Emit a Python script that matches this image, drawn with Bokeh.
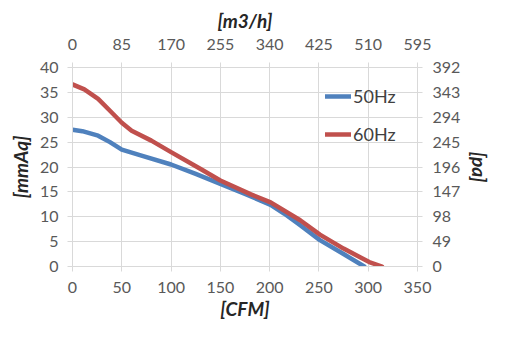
from bokeh.plotting import figure
from bokeh.models import Range1d, LinearAxis, FixedTicker, Legend, LegendItem
from bokeh.embed import file_html
from bokeh.resources import INLINE

# CFM airflow vs static pressure (mmAq)
cfm_50 = [0, 10, 26, 38, 50, 70, 100, 125, 150, 175, 201, 215, 231, 251, 275, 296]
mmaq_50 = [27.5, 27.2, 26.3, 25.0, 23.5, 22.3, 20.5, 18.6, 16.6, 14.6, 12.4, 10.6, 8.3, 5.3, 2.5, 0.0]
cfm_60 = [0, 12, 26, 38, 50, 60, 80, 100, 130, 150, 181, 201, 231, 251, 275, 301, 314]
mmaq_60 = [36.6, 35.6, 33.7, 31.3, 28.9, 27.3, 25.3, 23.0, 19.6, 17.3, 14.5, 12.9, 9.3, 6.4, 3.6, 0.9, 0.0]

cfm_ticks = [0, 50, 100, 150, 200, 250, 300, 350]
m3h_ticks = [0, 85, 170, 255, 340, 425, 510, 595]
mmaq_ticks = [0, 5, 10, 15, 20, 25, 30, 35, 40]
pa_ticks = [0, 49, 98, 147, 196, 245, 294, 343, 392]

FONT = "Lato"
TICK_COLOR = "#595959"
LABEL_COLOR = "#262626"
GRID = "#d9d9d9"

p = figure(width=516, height=342, output_backend="svg", toolbar_location=None,
           x_range=Range1d(0, 350), y_range=Range1d(0, 40),
           min_border_left=72, min_border_right=99, min_border_top=67, min_border_bottom=76,
           x_axis_location=None, y_axis_location=None)
p.outline_line_color = None
p.extra_x_ranges = {"m3h": Range1d(0, 595)}
p.extra_y_ranges = {"pa": Range1d(0, 392)}

def style(ax, ticks, label):
    ax.ticker = FixedTicker(ticks=ticks)
    ax.axis_label = label
    ax.axis_label_text_font = FONT
    ax.axis_label_text_font_style = "bold italic"
    ax.axis_label_text_font_size = "19px"
    ax.axis_label_text_color = LABEL_COLOR
    ax.major_label_text_font = FONT
    ax.major_label_text_font_size = "16px"
    ax.major_label_text_color = TICK_COLOR
    ax.axis_line_color = GRID
    ax.major_tick_line_color = GRID
    ax.major_tick_in = 0
    ax.major_tick_out = 5
    ax.minor_tick_line_color = None

bottom = LinearAxis()
style(bottom, cfm_ticks, "[CFM]")
bottom.major_label_standoff = 10
bottom.axis_label_standoff = 1
p.add_layout(bottom, "below")

top = LinearAxis(x_range_name="m3h")
style(top, m3h_ticks, "[m3/h]")
top.major_label_standoff = 13
top.axis_label_standoff = 4
p.add_layout(top, "above")

left = LinearAxis()
style(left, mmaq_ticks, "[mmAq]")
left.major_label_standoff = 9
left.axis_label_standoff = 5
p.add_layout(left, "left")

right = LinearAxis(y_range_name="pa")
style(right, pa_ticks, "[pa]")
right.major_label_standoff = 10
right.axis_label_standoff = 5
p.add_layout(right, "right")

p.xgrid.ticker = FixedTicker(ticks=cfm_ticks)
p.ygrid.ticker = FixedTicker(ticks=mmaq_ticks)
p.xgrid.grid_line_color = GRID
p.ygrid.grid_line_color = GRID

r50 = p.line(cfm_50, mmaq_50, line_color="#4f81bd", line_width=4.5, line_join="round", line_cap="round")
r60 = p.line(cfm_60, mmaq_60, line_color="#c0504d", line_width=4.5, line_join="round", line_cap="round")

legend = Legend(items=[LegendItem(label="50Hz", renderers=[r50]),
                       LegendItem(label="60Hz", renderers=[r60])],
                location=(253, 121), orientation="vertical")
legend.background_fill_alpha = 0
legend.border_line_color = None
legend.padding = 0
legend.margin = 0
legend.spacing = 16
legend.glyph_width = 26
legend.glyph_height = 20
legend.label_height = 20
legend.label_standoff = 2
legend.label_text_font = FONT
legend.label_text_font_size = "18px"
legend.label_text_color = "#404040"
p.add_layout(legend, "center")

open("out.html", "w").write(file_html(p, INLINE))
